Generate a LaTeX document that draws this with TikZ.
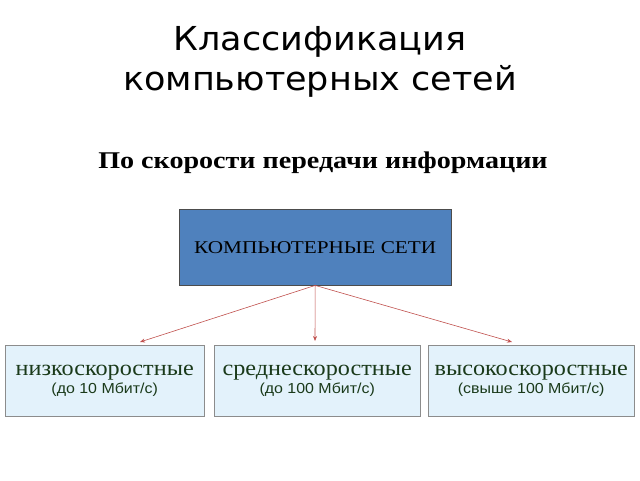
\documentclass[tikz,border=0pt]{standalone}
\usepackage{fontspec}
\setmainfont{Liberation Serif}
\newfontfamily\titlefont{DejaVu Sans}
\newfontfamily\subfont{Liberation Sans}
\usetikzlibrary{arrows.meta}
\definecolor{mainblue}{HTML}{4F81BD}
\definecolor{lightbox}{HTML}{E3F2FB}
\definecolor{arrowred}{HTML}{C0504D}
\definecolor{dgreen}{HTML}{1A3A1A}
\tikzset{
  topbox/.style={draw=black!70, fill=mainblue, minimum width=272pt, minimum height=76pt, inner sep=0pt},
  leafbox/.style={draw=black!45, fill=lightbox, minimum height=71pt, inner sep=0pt},
  leaftxt/.style={text=dgreen, align=center, xscale=1.1},
  conn/.style={draw=arrowred, line width=0.6pt, -{Stealth[length=5pt,width=4pt]}},
}
\newcommand{\leaftext}[2]{{\fontsize{22}{22}\selectfont #1}\\[1pt]{\subfont\fontsize{14.5}{15}\selectfont #2}}
\begin{document}
\begin{tikzpicture}[x=1pt,y=-1pt]
\useasboundingbox (0,0) rectangle (640,480);
\node[font=\titlefont\fontsize{33}{40}\selectfont, align=center, xscale=1.06] (title) at (320,62) {Классификация\\компьютерных сетей};
\node[font=\bfseries\fontsize{24}{26}\selectfont, xscale=1.17] (sub) at (323,163) {По скорости передачи информации};
\node[topbox, anchor=north west] (main) at (179,209) {};
\node[font=\fontsize{18}{20}\selectfont, xscale=1.18] (maintxt) at (main.center) {КОМПЬЮТЕРНЫЕ СЕТИ};
\node[leafbox, minimum width=199pt, anchor=north west] (low) at (5,345) {};
\node[leafbox, minimum width=206pt, anchor=north west] (mid) at (214,345) {};
\node[leafbox, minimum width=206pt, anchor=north west] (high) at (428,345) {};
\node[leaftxt] (lowt) at (low.center) {\leaftext{низкоскоростные}{(до 10 Мбит/с)}};
\node[leaftxt] (midt) at (mid.center) {\leaftext{среднескоростные}{(до 100 Мбит/с)}};
\node[leaftxt] (hight) at (high.center) {\leaftext{высокоскоростные}{(свыше 100 Мбит/с)}};
\coordinate (lt) at (140,342);
\coordinate (mt) at (315,341);
\coordinate (ht) at (512,342);
\draw[conn] (main.south) -- (lt);
\draw[conn] (main.south) -- (mt);
\draw[conn] (main.south) -- (ht);
\end{tikzpicture}
\end{document}
